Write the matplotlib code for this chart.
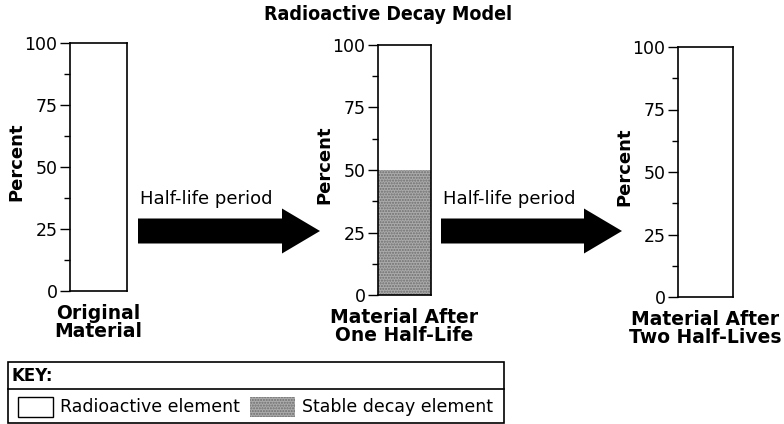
import matplotlib
matplotlib.use("Agg")
import matplotlib.pyplot as plt
from matplotlib.patches import FancyArrow, Rectangle

plt.rcParams['font.family'] = ['DejaVu Sans']

# data
stages = ["Original\nMaterial", "Material After\nOne Half-Life", "Material After\nTwo Half-Lives"]
stable_pct = [0, 50, 0]        # stable decay element shown (gray)
shown = [True, True, False]    # third bar left blank in the original
yticks = [0, 25, 50, 75, 100]
arrow_text = "Half-life period"
key_items = ["Radioactive element", "Stable decay element"]

W, H = 784, 424
fig = plt.figure(figsize=(W / 100, H / 100), dpi=100)

# panel boxes in pixels: left, top, right, bottom
boxes = [(70, 43, 127, 291), (378, 45, 431, 295), (678, 47, 733, 297)]
stipple = '#ababab'

ov = fig.add_axes([0, 0, 1, 1])
ov.set_xlim(0, W)
ov.set_ylim(H, 0)
ov.axis('off')

for i, (l, t, r, b) in enumerate(boxes):
    ax = fig.add_axes([l / W, 1 - b / H, (r - l) / W, (b - t) / H])
    if shown[i] and stable_pct[i] > 0:
        ax.bar(0.5, stable_pct[i], width=1, color=stipple, hatch='......',
               edgecolor='#6e6e6e', linewidth=0)
    ax.set_xlim(0, 1)
    ax.set_ylim(0, 100)
    ax.set_xticks([])
    ax.set_yticks(yticks)
    ax.set_yticks([12.5, 37.5, 62.5, 87.5], minor=True)
    ax.tick_params(axis='y', which='major', direction='out', length=7, width=1,
                   labelsize=12.5, pad=2)
    ax.tick_params(axis='y', which='minor', direction='out', length=4, width=1)
    for s in ax.spines.values():
        s.set_linewidth(1.2)
    ax.set_ylabel("Percent", fontsize=13, fontweight='bold')
    ax.yaxis.set_label_coords(-45 / (r - l), 0.52)
    ov.text((l + r) / 2, b + 13, stages[i], ha='center', va='top',
            fontsize=13.5, fontweight='bold', linespacing=0.95)

for x0, x1 in [(138, 320), (441, 622)]:
    ov.add_patch(FancyArrow(x0, 231, x1 - x0, 0, width=25, head_width=45,
                            head_length=38, length_includes_head=True,
                            color='black', linewidth=0))
    ov.text(x0 + 2, 204, arrow_text, fontsize=13, ha='left', va='baseline')

ov.text(388, 14, "Radioactive Decay Model", ha='center', va='center',
        fontsize=14, fontweight='heavy', fontstretch='condensed')

# key
ov.add_patch(Rectangle((8, 362), 496, 61, fill=False, edgecolor='black', linewidth=1.2))
ov.plot([8, 504], [389, 389], color='black', linewidth=1.2)
ov.text(12, 376, "KEY:", fontsize=12, fontweight='bold', va='center', ha='left')
ov.add_patch(Rectangle((18, 397), 35, 20, facecolor='white', edgecolor='black', linewidth=1))
ov.text(60, 407, key_items[0], fontsize=12.5, va='center', ha='left')
ov.add_patch(Rectangle((250, 397), 45, 20, facecolor=stipple, hatch='......',
                       edgecolor='#6e6e6e', linewidth=0))
ov.text(302, 407, key_items[1], fontsize=12.5, va='center', ha='left')

fig.savefig("out.png", dpi=100)
